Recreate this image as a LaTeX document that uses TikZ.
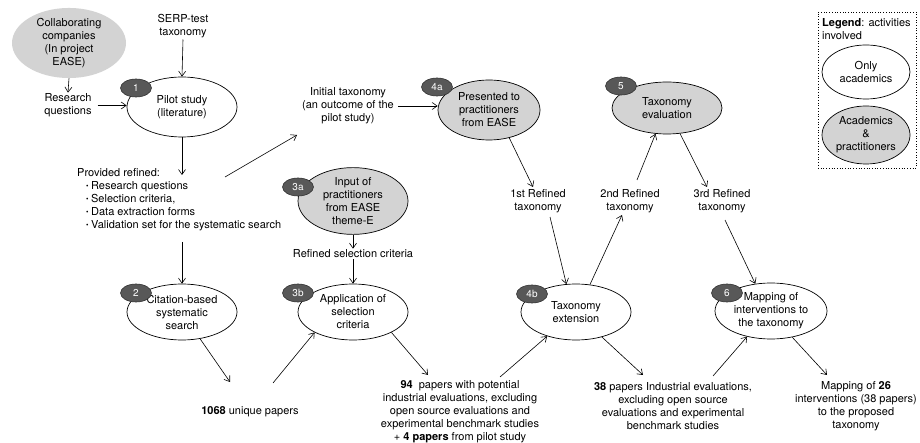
\documentclass[tikz,border=0pt]{standalone}
\usepackage{fontspec}
\setmainfont{TeX Gyre Heros}
\usetikzlibrary{shapes.geometric,arrows.meta}
\definecolor{grayfill}{RGB}{211,211,211}
\definecolor{badgefill}{RGB}{88,88,88}
\newcommand\bul{\hspace*{9pt}\raisebox{1.8pt}{\fontsize{7}{7}\selectfont\textbullet}\hspace{2.5pt}}
\begin{document}
\begin{tikzpicture}[x=1pt,y=-1pt,
  every node/.style={font=\fontsize{11}{13}\selectfont, align=center, inner sep=1pt},
  act/.style={ellipse, draw, line width=0.7pt, minimum width=110pt, minimum height=56pt, inner sep=0pt},
  prac/.style={act, fill=grayfill},
  badge/.style={ellipse, draw=black!80, line width=0.6pt, fill=badgefill, text=white, minimum width=31pt, minimum height=18pt, inner sep=0pt, font=\fontsize{10}{11}\selectfont},
  arr/.style={-{Straight Barb[length=5pt,width=7pt]}, line width=0.6pt}
]
\useasboundingbox (0,0) rectangle (920,443);

% nodes
\node[prac, draw=none, minimum width=114pt, minimum height=56pt] (collab) at (69,43) {Collaborating\\companies\\(In project\\EASE)};
\node (rq) at (68,105.5) {Research\\questions};
\node (serp) at (183,26.5) {SERP-test\\taxonomy};
\node[act, minimum height=60pt] (pilot) at (182,107) {Pilot study\\(literature)};
\node[badge] (b1) at (136,88) {1};
\node[anchor=west, align=left, inner sep=0pt] (prov) at (77,200) {Provided refined:\\\bul Research questions\\\bul Selection criteria,\\\bul Data extraction forms\\\bul Validation set for the systematic search};

\node[act] (cit) at (182,312) {Citation-based\\systematic\\search};
\node[badge] (b2) at (136,293) {2};

\node (init) at (348,106) {Initial taxonomy\\(an outcome of the\\pilot study)};
\node[prac, minimum height=54pt] (inp) at (353,201) {Input of\\practitioners\\from EASE\\theme-E};
\node[badge] (b3a) at (298,187) {3a};
\node (rsc) at (353,254) {Refined selection criteria};
\node[act] (appl) at (353,312) {Application of\\selection\\criteria};
\node[badge] (b3b) at (298,293) {3b};
\node (n1068) at (250,412) {\textbf{1068} unique papers};

\node[prac, minimum width=102pt, minimum height=60pt] (pres) at (489,110) {Presented to\\practitioners\\from EASE};
\node[badge] (b4a) at (437,87) {4a};
\node (r1) at (538,201.5) {1st Refined\\taxonomy};
\node[act] (ext) at (576,312) {Taxonomy\\extension};
\node[badge] (b4b) at (532,294) {4b};
\node (n94) at (460,411.5) {\textbf{94}\ \ papers with potential\\industrial evaluations, excluding\\open source evaluations and\\experimental benchmark studies\\+ \textbf{4 papers} from pilot study};

\node[prac, minimum height=52pt] (eval) at (667,108) {Taxonomy\\evaluation};
\node[badge] (b5) at (621,86) {5};
\node (r2) at (630,201.5) {2nd Refined\\taxonomy};
\node (r3) at (722,201.5) {3rd Refined\\taxonomy};
\node[act, minimum width=112pt] (map) at (771,311) {Mapping of\\interventions to\\the taxonomy};
\node[badge] (b6) at (727,293) {6};
\node (n38) at (673,406.5) {\textbf{38} papers Industrial evaluations,\\excluding open source\\evaluations and experimental\\benchmark studies};
\node (n26) at (856,406.5) {Mapping of \textbf{26}\\interventions (38 papers)\\to the proposed\\taxonomy};

% legend
\node[draw, dotted, line width=0.7pt, minimum width=98pt, minimum height=156pt, inner sep=0pt] (legend) at (867,90) {};
\node[anchor=north west, align=left] (legtxt) at (821,17) {\textbf{Legend}: activities\\involved};
\node[act, minimum width=88pt, minimum height=54pt] (lonly) at (866,72) {Only\\academics};
\node[prac, minimum width=88pt, minimum height=58pt] (lboth) at (866,135) {Academics\\\&\\practitioners};

% free connector ends
\coordinate (pA) at (182,175);
\coordinate (pB) at (182,242);
\coordinate (pC) at (225,177);
\coordinate (iIn) at (297,135);
\coordinate (r1in) at (533,187);
\coordinate (r1out) at (550,217);
\coordinate (r2in) at (622,215);
\coordinate (r2out) at (637,180);
\coordinate (r3in) at (707,187);
\coordinate (r3out) at (725,220);
\coordinate (k1in) at (230,382);
\coordinate (k1out) at (273,383);
\coordinate (k94in) at (428,375);
\coordinate (k94out) at (500,377);
\coordinate (k38in) at (643,375);
\coordinate (k38out) at (713,376);
\coordinate (k26in) at (827,375);

% connectors
\draw[arr] (collab.south) -- (rq.north);
\draw[arr, shorten <=5pt] (rq.east) -- (rq.east -| pilot.west);
\draw[arr] (serp.south) -- (pilot.north);
\draw[arr] (pilot.south) -- (pA);
\draw[arr] (pB) -- (cit.north);
\draw[arr] (pC) -- (iIn);
\draw[arr, shorten <=3pt] (init.east) -- (init.east -| pres.west);
\draw[arr] (pres.-54) -- (r1in);
\draw[arr] (r1out) -- (ext.109);
\draw[arr] (ext.63) -- (r2in);
\draw[arr] (r2out) -- (eval.246);
\draw[arr] (eval.297) -- (r3in);
\draw[arr] (r3out) -- (map.120);
\draw[arr] (inp.south) -- (rsc.north);
\draw[arr] (rsc.south) -- (appl.north);
\draw[arr] (cit.-56) -- (k1in);
\draw[arr] (k1out) -- (appl.208);
\draw[arr] (appl.-28) -- (k94in);
\draw[arr] (k94out) -- (ext.220);
\draw[arr] (ext.-44) -- (k38in);
\draw[arr] (k38out) -- (map.227);
\draw[arr] (map.-51) -- (k26in);
\end{tikzpicture}
\end{document}
